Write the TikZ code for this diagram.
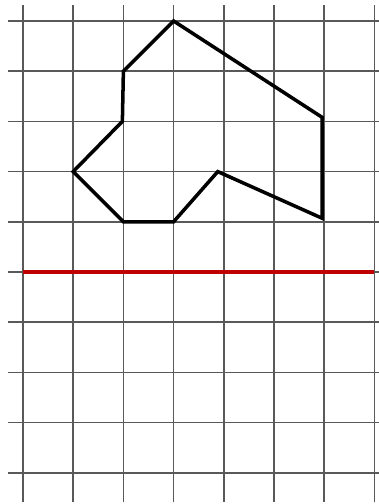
\documentclass[tikz,border=0pt]{standalone}
\usepackage{tikz}
\tikzset{
    gridline/.style={
        draw=black!65,
        line width=1pt
    },
    axisline/.style={
        draw=red!75!black,
        line width=2.2pt
    },
    figline/.style={
        draw=black,
        line width=2pt,
        line join=miter
    }
}

\begin{document}
\begin{tikzpicture}[x=1.004cm,y=1.004cm]
          \useasboundingbox (-0.458,-4.622) rectangle (7.09,5.418);
          % grid
          \foreach \i in {0,...,7} {
              \draw [gridline] (\i,-4.58) -- (\i,5.32);
          }
          \foreach \j in {-4,...,5} {
              \draw [gridline] (-0.3,\j) -- (7.09,\j);
          }
          % red line
          \coordinate (rl) at (0,0);
          \coordinate (rr) at (7,0);
          \draw [axisline] (rl) -- (rr);
          % figure
          \coordinate (p1) at (3,5);
          \coordinate (p2) at (2,4);
          \coordinate (p3) at (1.98,3);
          \coordinate (p4) at (1,2);
          \coordinate (p5) at (2,1);
          \coordinate (p6) at (3,1);
          \coordinate (p7) at (3.88,2);
          \coordinate (p8) at (5.96,1.07);
          \coordinate (p9) at (5.96,3.08);
          \draw [figline] (p1) -- (p2) -- (p3) -- (p4) -- (p5) -- (p6) -- (p7) -- (p8) -- (p9) -- cycle;
        \end{tikzpicture}
\end{document}
